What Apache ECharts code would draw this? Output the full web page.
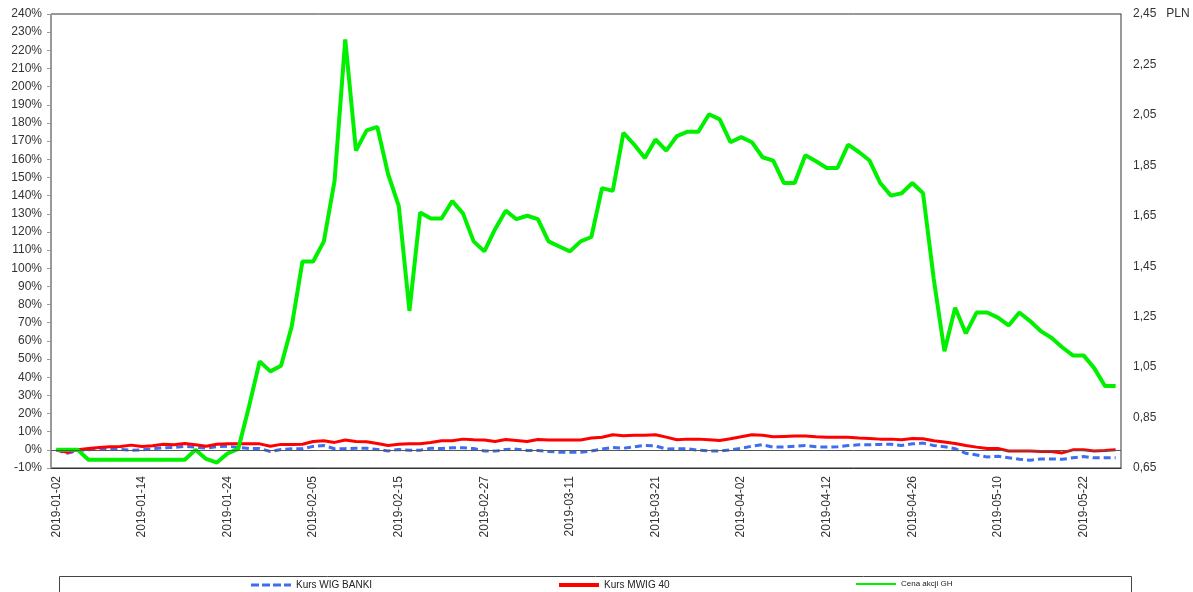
<!DOCTYPE html>
<html>
<head>
<meta charset="utf-8">
<title>GH vs WIG BANKI vs MWIG 40</title>
<script src="https://cdn.jsdelivr.net/npm/echarts@6/dist/echarts.min.js"></script>
<style>
  html, body { margin: 0; padding: 0; background: #fff; }
  #chart { width: 1193px; height: 592px; }
</style>
</head>
<body>
<div id="chart"></div>
<script>
// trading days 2019-01-02 .. 2019-05-27
var dates = [
  "2019-01-02","2019-01-03","2019-01-04","2019-01-07","2019-01-08","2019-01-09","2019-01-10","2019-01-11","2019-01-14","2019-01-15",
  "2019-01-16","2019-01-17","2019-01-18","2019-01-21","2019-01-22","2019-01-23","2019-01-24","2019-01-25","2019-01-28","2019-01-29",
  "2019-01-30","2019-01-31","2019-02-01","2019-02-04","2019-02-05","2019-02-06","2019-02-07","2019-02-08","2019-02-11","2019-02-12",
  "2019-02-13","2019-02-14","2019-02-15","2019-02-18","2019-02-19","2019-02-20","2019-02-21","2019-02-22","2019-02-25","2019-02-26",
  "2019-02-27","2019-02-28","2019-03-01","2019-03-04","2019-03-05","2019-03-06","2019-03-07","2019-03-08","2019-03-11","2019-03-12",
  "2019-03-13","2019-03-14","2019-03-15","2019-03-18","2019-03-19","2019-03-20","2019-03-21","2019-03-22","2019-03-25","2019-03-26",
  "2019-03-27","2019-03-28","2019-03-29","2019-04-01","2019-04-02","2019-04-03","2019-04-04","2019-04-05","2019-04-08","2019-04-09",
  "2019-04-10","2019-04-11","2019-04-12","2019-04-15","2019-04-16","2019-04-17","2019-04-18","2019-04-23","2019-04-24","2019-04-25",
  "2019-04-26","2019-04-29","2019-04-30","2019-05-02","2019-05-06","2019-05-07","2019-05-08","2019-05-09","2019-05-10","2019-05-13",
  "2019-05-14","2019-05-15","2019-05-16","2019-05-17","2019-05-20","2019-05-21","2019-05-22","2019-05-23","2019-05-24","2019-05-27"
];

// % change since 2019-01-02
var wigBanki = [
  0, -1.9, -0.4, 0, 0.4, 0.6, 0.2, -0.2, 0, 0.6,
  1.1, 1.3, 1.9, 1.5, 0.9, 1.7, 2.0, 1.3, 0.7, 0.7,
  -0.9, 0.2, 0.6, 0.6, 1.9, 2.4, 0.6, 0.7, 0.9, 0.9,
  0.2, -0.6, 0.2, -0.2, -0.2, 0.9, 0.7, 1.1, 1.1, 0.7,
  -0.6, -0.7, 0.2, 0.4, -0.4, -0.4, -0.9, -1.3, -1.3, -1.3,
  -0.6, 0.4, 1.3, 0.9, 1.7, 2.4, 2.2, 0.4, 0.6, 0.6,
  -0.2, -0.6, -0.6, 0, 0.9, 2.0, 2.8, 1.5, 1.5, 2.0,
  2.4, 1.7, 1.5, 1.7, 2.4, 2.8, 2.8, 3.0, 3.1, 2.4,
  3.3, 3.7, 2.4, 1.7, 0.6, -1.9, -2.8, -3.9, -3.5, -4.3,
  -5.2, -5.7, -5.0, -5.0, -5.2, -4.4, -3.7, -4.4, -4.4, -4.4
];

var mwig40 = [
  0, -1.3, 0, 0.7, 1.3, 1.7, 1.9, 2.6, 1.9, 2.2,
  3.1, 2.8, 3.5, 2.8, 2.0, 3.1, 3.3, 3.3, 3.3, 3.3,
  2.0, 3.0, 3.0, 3.1, 4.6, 5.0, 4.1, 5.4, 4.6, 4.4,
  3.5, 2.4, 3.1, 3.3, 3.3, 4.1, 5.0, 5.0, 5.9, 5.6,
  5.4, 4.6, 5.7, 5.2, 4.6, 5.7, 5.4, 5.4, 5.4, 5.4,
  6.5, 6.9, 8.3, 7.8, 8.0, 8.0, 8.3, 7.0, 5.6, 5.9,
  5.9, 5.6, 5.2, 6.1, 7.2, 8.3, 8.0, 7.2, 7.4, 7.6,
  7.6, 7.2, 7.0, 6.9, 6.9, 6.5, 6.3, 5.9, 5.9, 5.6,
  6.3, 6.1, 5.0, 4.3, 3.5, 2.4, 1.5, 0.7, 0.7, -0.6,
  -0.6, -0.6, -0.9, -0.9, -1.7, 0, 0, -0.7, -0.4, 0
];

var cenaGH = [
  0, 0, 0, -5.5, -5.5, -5.5, -5.5, -5.5, -5.5, -5.5,
  -5.5, -5.5, -5.5, 0, -5, -7, -2, 0.5, 23.7, 48.7,
  43.2, 46.3, 68.1, 103.7, 103.7, 114.8, 148.1, 226, 164.8, 175.9,
  177.8, 151.9, 134.4, 76.5, 130.7, 127.4, 127.4, 137, 130.2, 114.8,
  109.3, 121.5, 131.7, 127, 128.9, 127, 114.8, 112, 109.3, 114.8,
  117.2, 144.1, 142.6, 174.6, 168.1, 160.7, 170.9, 164.8, 172.8, 175.2,
  175.2, 184.8, 182, 169.4, 172.2, 169.4, 161.1, 159.3, 146.9, 146.9,
  162.2, 158.9, 155.2, 155.2, 168.1, 164, 159.3, 146.9, 140, 141.3,
  146.9, 141.3, 94.1, 54.3, 78.3, 64.1, 75.6, 75.6, 72.8, 68.5,
  75.6, 70.9, 65.4, 61.7, 56.5, 52, 52, 45, 35.2, 35.2
];

var seriesNames = ["Kurs WIG BANKI", "Kurs MWIG 40", "Cena akcji GH"];

var font = "Liberation Sans, Arial, sans-serif";
var legendFont = "Liberation Sans Narrow, " + font;
// legend icons: dashed / solid bars, 40 px wide
var dashIcon = "path://M0,0h8v3h-8z M11,0h8v3h-8z M22,0h8v3h-8z M33,0h7v3h-7z";
var chart = echarts.init(document.getElementById("chart"));

var option = {
  animation: false,
  backgroundColor: "#fff",
  grid: {
    left: 51, right: 72, top: 14, bottom: 124,
    show: true,
    borderColor: "#333",
    borderWidth: 1
  },
  legend: [
    {
      data: [{ name: seriesNames[0], icon: dashIcon }], left: 246, top: 575,
      itemWidth: 40, itemHeight: 3, itemGap: 4,
      textStyle: { fontFamily: legendFont, fontSize: 10, color: "#222" }
    },
    {
      data: [{ name: seriesNames[1], icon: "rect" }], left: 554, top: 575,
      itemWidth: 40, itemHeight: 4, itemGap: 4,
      textStyle: { fontFamily: legendFont, fontSize: 10, color: "#222" }
    },
    {
      data: [{ name: seriesNames[2], icon: "rect" }], left: 851, top: 575,
      itemWidth: 40, itemHeight: 2, itemGap: 4,
      textStyle: { fontFamily: legendFont, fontSize: 8, color: "#222" }
    }
  ],
  graphic: [
    {
      // legend frame
      type: "rect",
      silent: true,
      shape: { x: 59.5, y: 576.5, width: 1072, height: 30 },
      style: { fill: "none", stroke: "#444", lineWidth: 1 }
    }
  ],
  xAxis: {
    type: "category",
    data: dates,
    boundaryGap: true,
    axisLine: { onZero: false, lineStyle: { color: "#333", width: 1 } },
    axisTick: { show: false },
    axisLabel: {
      interval: 7,
      rotate: 90,
      margin: 8,
      fontFamily: font,
      fontSize: 12,
      color: "#333"
    },
    splitLine: { show: false }
  },
  yAxis: [
    {
      type: "value",
      min: -10,
      max: 240,
      interval: 10,
      axisLine: { show: true, lineStyle: { color: "#999" } },
      axisTick: { show: true, length: 4, lineStyle: { color: "#999" } },
      axisLabel: {
        margin: 9,
        fontFamily: font,
        fontSize: 12,
        color: "#333",
        formatter: "{value}%"
      },
      splitLine: { show: false }
    },
    {
      type: "value",
      position: "right",
      min: 0.65,
      max: 2.45,
      interval: 0.2,
      axisLine: { show: true, lineStyle: { color: "#999" } },
      axisTick: { show: false },
      axisLabel: {
        margin: 12,
        fontFamily: font,
        fontSize: 12,
        color: "#333",
        formatter: function (v) {
          var s = v.toFixed(2).replace(".", ",");
          return Math.abs(v - 2.45) < 0.001 ? s + "   PLN" : s;
        }
      },
      splitLine: { show: false }
    }
  ],
  series: [
    {
      name: seriesNames[0],
      type: "line",
      data: wigBanki,
      symbol: "none",
      color: "#3d6ef2",
      lineStyle: { width: 3, type: [7, 4], color: "#3d6ef2" },
      markLine: {
        silent: true,
        symbol: ["none", "none"],
        label: { show: false },
        lineStyle: { color: "#555", width: 1, type: "solid" },
        data: [{ yAxis: 0 }]
      },
      z: 2
    },
    {
      name: seriesNames[1],
      type: "line",
      data: mwig40,
      symbol: "none",
      color: "#ff0000",
      lineStyle: { width: 3, color: "#ff0000" },
      z: 3
    },
    {
      name: seriesNames[2],
      type: "line",
      data: cenaGH,
      symbol: "none",
      color: "#00f000",
      lineStyle: { width: 4, color: "#00f000" },
      z: 4
    }
  ]
};

chart.setOption(option);
</script>
</body>
</html>
